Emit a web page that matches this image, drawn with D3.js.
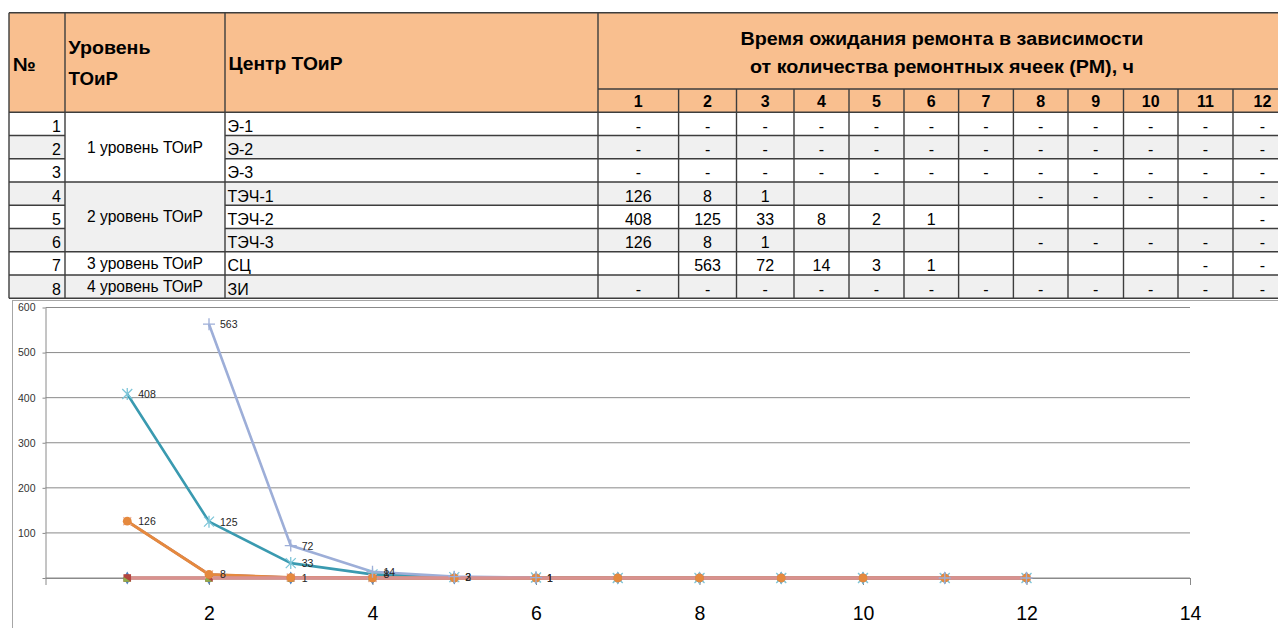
<!DOCTYPE html>
<html><head><meta charset="utf-8">
<script src="https://cdn.jsdelivr.net/npm/d3@7"></script>
<style>
html,body{margin:0;padding:0;background:#fff;}
svg{display:block;}
text{font-family:"Liberation Sans",Arial,sans-serif;}
</style></head><body>
<svg id="c" width="1278" height="628"></svg>
<script>
// ---------------- data ----------------
const rmCounts = [1,2,3,4,5,6,7,8,9,10,11,12];
const rowNumbers = [1,2,3,4,5,6,7,8];
const levelNames = ["1 уровень ТОиР","2 уровень ТОиР","3 уровень ТОиР","4 уровень ТОиР"];
const levelRowSpans = [3,3,1,1];
const centerNames = ["Э-1","Э-2","Э-3","ТЭЧ-1","ТЭЧ-2","ТЭЧ-3","СЦ","ЗИ"];
// 0 is shown as "-" in the table, null is an empty cell
const valuesE1    = [0,0,0,0,0,0,0,0,0,0,0,0];
const valuesE2    = [0,0,0,0,0,0,0,0,0,0,0,0];
const valuesE3    = [0,0,0,0,0,0,0,0,0,0,0,0];
const valuesTECh1 = [126,8,1,null,null,null,null,0,0,0,0,0];
const valuesTECh2 = [408,125,33,8,2,1,null,null,null,null,null,0];
const valuesTECh3 = [126,8,1,null,null,null,null,0,0,0,0,0];
const valuesSC    = [null,563,72,14,3,1,null,null,null,null,0,0];
const valuesZI    = [0,0,0,0,0,0,0,0,0,0,0,0];
const yTickValues = [0,100,200,300,400,500,600];
const xTickValues = [0,2,4,6,8,10,12,14];
const headerNo = "№";
const headerLevel = ["Уровень","ТОиР"];
const headerCenter = "Центр ТОиР";
const headerTitle = ["Время ожидания ремонта в зависимости","от количества ремонтных ячеек (РМ), ч"];

const rowValues = [valuesE1,valuesE2,valuesE3,valuesTECh1,valuesTECh2,valuesTECh3,valuesSC,valuesZI];

// ---------------- layout ----------------
const svg = d3.select("#c");
const T = {left:9, top:12.7, sub:89, head:112.3, rowH:23.25, right:1292};
const colNo = 65, colLevel = 225, colCenter = 598;
const valEdges = [598,678.6,736.5,794,849,904,958.6,1013.4,1068,1123.5,1178,1233,1292];
const headFill = "#F9BF8F", grayFill = "#F0F0F0", lineCol = "#3d3d3d";
const rowTop = i => T.head + i*T.rowH;

const tbl = svg.append("g");
tbl.append("rect").attr("x",T.left).attr("y",T.top).attr("width",T.right-T.left).attr("height",T.head-T.top).attr("fill",headFill);
rowNumbers.forEach((n,i)=>{
  tbl.append("rect").attr("x",T.left).attr("y",rowTop(i)).attr("width",T.right-T.left).attr("height",T.rowH)
    .attr("fill", i%2===1 ? grayFill : "#fff");
});
let acc = 0;
const levelSpans = levelNames.map((name,k)=>{ const s = {name, start:acc, span:levelRowSpans[k]}; acc += levelRowSpans[k]; return s; });
levelSpans.forEach(s=>{
  tbl.append("rect").attr("x",colNo).attr("y",rowTop(s.start)).attr("width",colLevel-colNo).attr("height",s.span*T.rowH)
    .attr("fill", s.start%2===1 ? grayFill : "#fff");
});
const L = (x1,y1,x2,y2)=>tbl.append("line").attr("x1",x1).attr("y1",y1).attr("x2",x2).attr("y2",y2)
  .attr("stroke",lineCol).attr("stroke-width",1.4);
const bottom = rowTop(rowNumbers.length);
L(T.left,T.top,T.right,T.top);
L(colCenter,T.sub,T.right,T.sub);
L(T.left,T.head,T.right,T.head);
[T.left,colNo,colLevel,colCenter].forEach(x=>L(x,T.top,x,bottom));
valEdges.slice(1,-1).forEach(x=>L(x,T.sub,x,bottom));
rowNumbers.forEach((n,i)=>{
  const y = rowTop(i+1);
  L(T.left,y,colNo,y);
  L(colLevel,y,T.right,y);
});
levelSpans.forEach(s=>{ const y=rowTop(s.start+s.span); L(colNo,y,colLevel,y); });

const hb = {"font-weight":"bold","font-size":"19px","fill":"#000"};
function txt(g,str,x,y,attrs,anchor,len){
  const t = g.append("text").attr("x",x).attr("y",y).text(str).attr("text-anchor",anchor||"start");
  Object.entries(attrs).forEach(([k,v])=>t.attr(k,v));
  if(len){ t.attr("textLength",len).attr("lengthAdjust","spacingAndGlyphs"); }
  return t;
}
txt(tbl,headerNo,13,71,hb,"start",23);
txt(tbl,headerLevel[0],68.5,54,hb,"start",82);
txt(tbl,headerLevel[1],68.5,84.5,hb,"start",49.5);
txt(tbl,headerCenter,228.5,70,hb,"start",114);
txt(tbl,headerTitle[0],942,44.5,hb,"middle",403);
txt(tbl,headerTitle[1],942,73,hb,"middle",384);
rmCounts.forEach((c,j)=>{
  txt(tbl,String(c),(valEdges[j]+valEdges[j+1])/2,107.3,{"font-weight":"bold","font-size":"16px"},"middle");
});
const bt = {"font-size":"16px","fill":"#000"};
rowNumbers.forEach((n,i)=>{
  const base = rowTop(i+1)-3.7;
  txt(tbl,String(n),61,base,bt,"end");
  txt(tbl,centerNames[i],227.5,base,bt,"start");
  rowValues[i].forEach((v,j)=>{
    if(v===null) return;
    txt(tbl, v===0 ? "-" : String(v), (valEdges[j]+valEdges[j+1])/2, base, bt, "middle");
  });
});
levelSpans.forEach(s=>{
  const cy = rowTop(s.start) + s.span*T.rowH/2;
  txt(tbl,s.name,(colNo+colLevel)/2,cy+5.5,bt,"middle",116);
});

// ---------------- chart ----------------
svg.append("rect").attr("x",12.5).attr("y",300.5).attr("width",1300).attr("height",400)
  .attr("fill","#fff").attr("stroke","#a6a6a6");

const x = d3.scaleLinear().domain([0,14]).range([45.5,1190]);
const y = d3.scaleLinear().domain([0,600]).range([578,307.5]);
const ch = svg.append("g");
const axisCol = "#8a8a8a";

ch.append("g").selectAll("line").data(yTickValues).join("line")
  .attr("x1",x(0)).attr("x2",x(14)).attr("y1",d=>y(d)).attr("y2",d=>y(d))
  .attr("stroke",axisCol).attr("stroke-width",1);

const yAxis = ch.append("g").attr("transform",`translate(${x(0)},0)`)
  .call(d3.axisLeft(y).tickValues(yTickValues).tickSize(3).tickSizeOuter(0).tickPadding(7)
    .tickFormat(d=>d===0?"":d));
yAxis.selectAll("path,line").attr("stroke",axisCol);
yAxis.selectAll("text").attr("font-size","10.5px").attr("fill","#333")
  .attr("font-family","'Liberation Sans',Arial,sans-serif");

const xAxis = ch.append("g").attr("transform",`translate(0,${y(0)})`)
  .call(d3.axisBottom(x).tickValues(xTickValues).tickSize(7).tickSizeOuter(0).tickPadding(21)
    .tickFormat(d=>d===0?"":d));
xAxis.selectAll("path,line").attr("stroke",axisCol);
xAxis.selectAll("text").attr("font-size","19.5px").attr("fill","#000")
  .attr("font-family","'Liberation Sans',Arial,sans-serif");

const seriesList = [
  {name:"Э-1",   values:valuesE1,    line:"#4F81BD", w:2.5, marker:"diamond",  mcol:"#4F81BD", blankAsZero:true},
  {name:"Э-2",   values:valuesE2,    line:"#C0504D", w:2.5, marker:"square",   mcol:"#B2453F", blankAsZero:true},
  {name:"Э-3",   values:valuesE3,    line:"#9BBB59", w:2.5, marker:"triangle", mcol:"#8DB04C", blankAsZero:true},
  {name:"ТЭЧ-1", values:valuesTECh1, line:"#8064A2", w:2.5, marker:"x",        mcol:"#E9B3A6", blankAsZero:true},
  {name:"ТЭЧ-2", values:valuesTECh2, line:"#3A9AB0", w:2.6, marker:"star",     mcol:"#7CC5D8", blankAsZero:true, label:true},
  {name:"ТЭЧ-3", values:valuesTECh3, line:"#E5893E", w:3,   marker:"circle",   mcol:"#E5893E", blankAsZero:true, label:true},
  {name:"СЦ",    values:valuesSC,    line:"#9DAED8", w:2.6, marker:"plus",     mcol:"#9DAED8", blankAsZero:false, label:true},
  {name:"ЗИ",    values:valuesZI,    line:"#D9918F", w:3.4, marker:null,       mcol:null,      blankAsZero:true}
];
seriesList.forEach(s=>{
  s.pts = rmCounts.map((c,j)=>({x:c, v: s.values[j]===null ? (s.blankAsZero?0:null) : s.values[j], raw:s.values[j]}));
});

const lineGen = d3.line().defined(d=>d.v!==null).x(d=>x(d.x)).y(d=>y(d.v));
const linesG = ch.append("g"), markG = ch.append("g"), labG = ch.append("g");
seriesList.forEach(s=>{
  linesG.append("path").datum(s.pts).attr("d",lineGen).attr("fill","none")
    .attr("stroke",s.line).attr("stroke-width",s.w).attr("stroke-linejoin","round");
});
function drawMarker(g,s,px,py){
  const m = s.marker;
  if(m==="circle"){ g.append("circle").attr("cx",px).attr("cy",py).attr("r",4.4).attr("fill",s.mcol); }
  else if(m==="square"){ g.append("rect").attr("x",px-3.8).attr("y",py-3.8).attr("width",7.6).attr("height",7.6).attr("fill",s.mcol); }
  else if(m==="diamond"){ g.append("path").attr("d",d3.symbol(d3.symbolDiamond,50)()).attr("transform",`translate(${px},${py})`).attr("fill",s.mcol); }
  else if(m==="triangle"){ g.append("path").attr("d",`M${px-3.8},${py+3.8}L${px+3.8},${py+3.8}L${px-3.8},${py-1}Z`).attr("fill",s.mcol); }
  else if(m==="x"){ const r=4; g.append("path").attr("d",`M${px-r},${py-r}L${px+r},${py+r}M${px-r},${py+r}L${px+r},${py-r}`).attr("stroke",s.mcol).attr("stroke-width",1.3); }
  else if(m==="star"){ const r=5; g.append("path").attr("d",`M${px-r},${py-r}L${px+r},${py+r}M${px-r},${py+r}L${px+r},${py-r}M${px},${py-r-1}L${px},${py+r+1}`).attr("stroke",s.mcol).attr("stroke-width",1.3); }
  else if(m==="plus"){ const r=6; g.append("path").attr("d",`M${px-r},${py}L${px+r},${py}M${px},${py-r}L${px},${py+r}`).attr("stroke",s.mcol).attr("stroke-width",1.3); }
}
seriesList.forEach(s=>{
  if(!s.marker) return;
  s.pts.forEach(p=>{ if(p.v!==null) drawMarker(markG,s,x(p.x),y(p.v)); });
});
seriesList.forEach(s=>{
  if(!s.label) return;
  s.pts.forEach(p=>{
    if(p.raw===null || p.raw===0) return;
    labG.append("text").attr("x",x(p.x)+11).attr("y",y(p.v)+4).text(p.raw)
      .attr("font-size","10.5px").attr("fill","#262626");
  });
});
</script>
</body></html>
